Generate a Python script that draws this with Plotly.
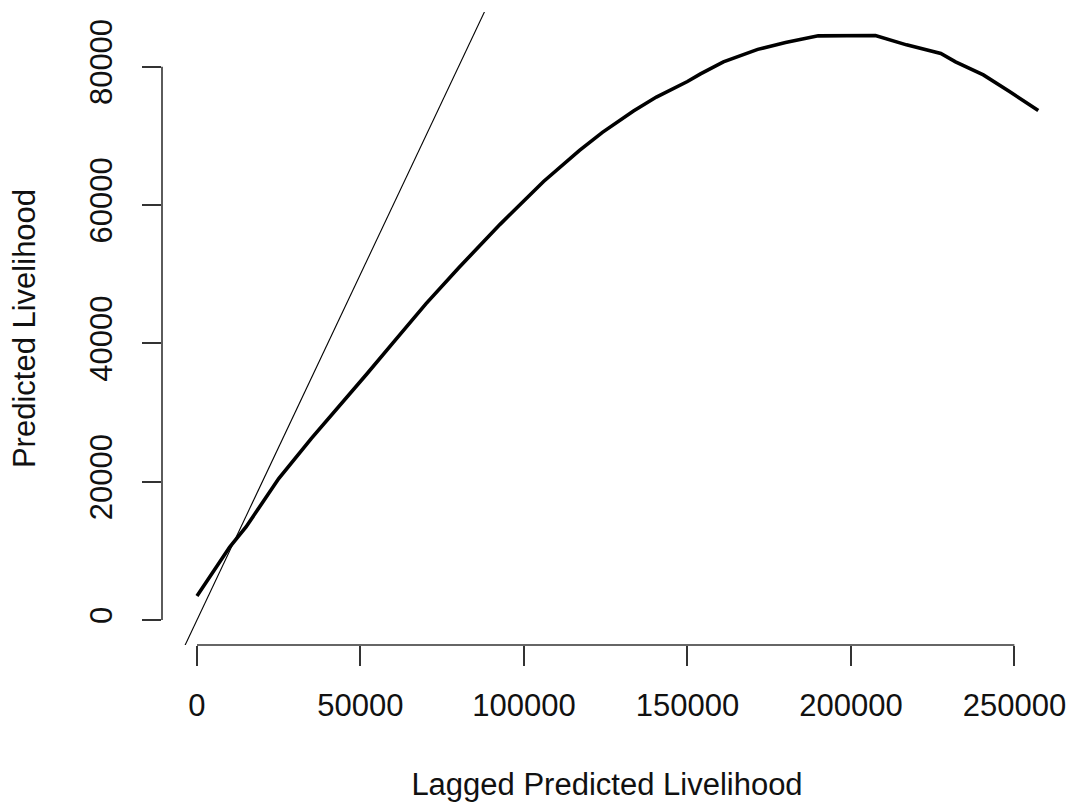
import plotly.graph_objects as go

# Fitted curve: predicted livelihood against its lagged value
lagged = [0, 10000, 15000, 25000, 35000, 45000, 52000, 60000, 70000, 80000,
          92700, 106000, 117000, 124000, 133500, 140500, 150000, 154000,
          161000, 171500, 180000, 190000, 207500, 217000, 227500,
          232000, 240500, 248500, 257300]
predicted = [3470, 10550, 13450, 20450, 26250, 31650, 35600, 40100, 45700, 50900,
             57200, 63400, 67900, 70500, 73600, 75600, 77850, 78950,
             80700, 82500, 83500, 84450, 84500, 83150, 81900,
             80700, 78800, 76400, 73650]

# Reference line y = a + b x
ab_intercept = 0
ab_slope = 1

x_ticks = [0, 50000, 100000, 150000, 200000, 250000]
y_ticks = [0, 20000, 40000, 60000, 80000]

x_range = [-10700, 261500]
y_range = [-3615, 87900]

FONT = "Liberation Sans, Arial, sans-serif"
FS = 31
TXT = "#111111"
AXC = "#333333"

fig = go.Figure()

ab_x = [x_range[0], x_range[1]]
ab_y = [ab_intercept + ab_slope * v for v in ab_x]
fig.add_trace(go.Scatter(x=ab_x, y=ab_y, mode="lines",
                         line=dict(color="#000000", width=1.1),
                         showlegend=False, hoverinfo="skip"))

fig.add_trace(go.Scatter(x=lagged, y=predicted, mode="lines",
                         line=dict(color="#000000", width=3.6),
                         showlegend=False))

# Axis lines spanning first to last tick only
fig.add_shape(type="line", xref="x", yref="paper",
              x0=x_ticks[0], x1=x_ticks[-1], y0=0, y1=0,
              line=dict(color=AXC, width=1.6))
fig.add_shape(type="line", xref="paper", yref="y",
              x0=0, x1=0, y0=y_ticks[0], y1=y_ticks[-1],
              line=dict(color=AXC, width=1.6))

fig.update_xaxes(range=x_range, showgrid=False, zeroline=False, showline=False,
                 tickmode="array", tickvals=x_ticks,
                 ticktext=[str(v) for v in x_ticks],
                 ticks="outside", ticklen=20, tickwidth=1.6, tickcolor=AXC,
                 tickfont=dict(family=FONT, size=FS, color=TXT),
                 ticklabelstandoff=13,
                 title=dict(text="Lagged Predicted Livelihood",
                            font=dict(family=FONT, size=FS, color=TXT),
                            standoff=51))
fig.update_yaxes(range=y_range, showgrid=False, zeroline=False, showline=False,
                 tickmode="array", tickvals=y_ticks,
                 ticktext=[str(v) for v in y_ticks],
                 ticks="outside", ticklen=19, tickwidth=1.6, tickcolor=AXC,
                 tickangle=-90,
                 tickfont=dict(family=FONT, size=FS, color=TXT),
                 ticklabelstandoff=18,
                 title=dict(text="Predicted Livelihood",
                            font=dict(family=FONT, size=FS, color=TXT),
                            standoff=38))

fig.update_layout(width=1073, height=807,
                  margin=dict(l=162, r=21, t=12, b=162, autoexpand=False),
                  paper_bgcolor="white", plot_bgcolor="white")

fig.write_html("out.html")
